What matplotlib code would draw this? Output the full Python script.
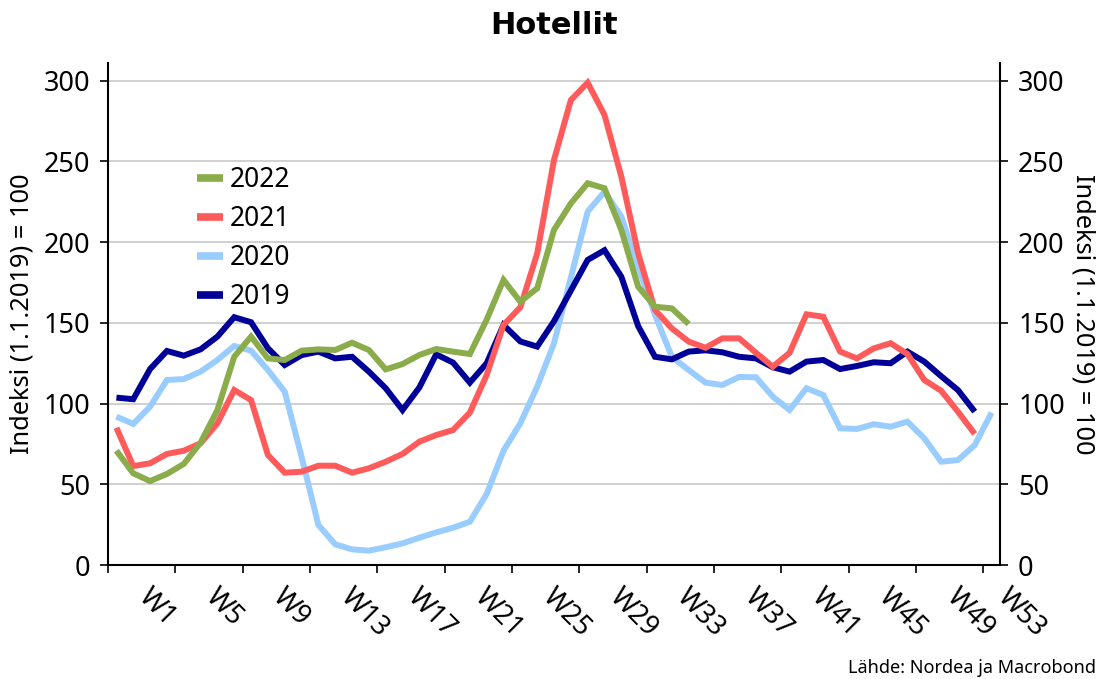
import matplotlib
matplotlib.use('Agg')
import matplotlib.pyplot as plt
import matplotlib.transforms as mtransforms
import numpy as np

plt.rcParams['font.family'] = ['Noto Sans', 'DejaVu Sans']

# Weekly index values (1.1.2019 = 100)
y2019 = [103.7, 102.7, 121.4, 132.6, 129.7, 133.6, 141.5, 153.5, 150.4, 134.3,
         123.9, 130.0, 132.2, 128.0, 129.0, 119.8, 109.5, 96.0, 110.0, 130.5,
         125.4, 113.0, 125.0, 148.7, 138.5, 135.3, 151.0, 170.0, 189.0, 195.0,
         178.6, 148.0, 129.0, 127.4, 132.2, 133.0, 131.8, 129.0, 128.0, 122.5,
         119.8, 126.0, 127.0, 121.4, 123.3, 125.6, 125.0, 132.2, 126.0, 117.0,
         108.4, 95.0]
y2020 = [91.9, 87.4, 98.1, 114.6, 115.2, 119.8, 127.0, 135.7, 132.8, 120.8,
         107.4, 67.1, 24.8, 12.8, 9.7, 8.9, 11.0, 13.4, 16.9, 20.2,
         23.1, 26.8, 44.0, 70.8, 87.8, 110.5, 137.4, 178.0, 218.9, 231.3,
         215.8, 184.8, 155.0, 129.0, 120.8, 113.0, 111.5, 116.5, 116.3, 104.3,
         96.0, 109.5, 105.3, 84.7, 84.3, 87.2, 85.7, 88.8, 78.5, 64.0,
         65.0, 74.3, 94.4]
y2021 = [85.0, 61.3, 63.0, 68.8, 70.8, 75.4, 87.8, 108.4, 102.2, 68.2,
         57.2, 57.8, 61.5, 61.5, 57.2, 59.9, 64.0, 68.8, 76.4, 80.5,
         83.6, 94.4, 117.7, 148.7, 159.7, 193.0, 251.0, 288.0, 298.8, 278.8,
         240.6, 193.0, 158.0, 146.6, 138.4, 134.6, 140.4, 140.4, 131.5, 122.9,
         131.5, 155.3, 153.8, 132.2, 128.0, 134.2, 137.4, 130.7, 114.6, 108.0,
         95.0, 81.2]
y2022 = [70.8, 56.8, 52.0, 56.4, 62.6, 75.8, 96.0, 129.0, 141.5, 128.0,
         127.0, 132.8, 133.6, 133.2, 137.7, 133.2, 121.2, 124.5, 130.1, 133.8,
         132.2, 130.7, 152.0, 176.6, 163.1, 171.4, 207.6, 224.0, 236.5, 233.4,
         207.6, 172.4, 160.0, 159.0, 149.3]

week_labels = ['W1', 'W5', 'W9', 'W13', 'W17', 'W21', 'W25', 'W29', 'W33',
               'W37', 'W41', 'W45', 'W49', 'W53']
y_ticks = [0, 50, 100, 150, 200, 250, 300]

series = [
    ('2020', y2020, '#99ccff', 2),
    ('2019', y2019, '#000099', 3),
    ('2021', y2021, '#ff5b5b', 4),
    ('2022', y2022, '#8aac4b', 5),
]

fig = plt.figure(figsize=(11, 6.79), dpi=100)
ax = fig.add_axes([108 / 1100, 1 - 565 / 679, 892 / 1100, 502 / 679])

lines = {}
for name, vals, color, z in series:
    lines[name], = ax.plot(np.arange(len(vals)), vals, color=color, lw=4.3,
                           solid_joinstyle='miter', solid_capstyle='butt',
                           zorder=z)

ax.set_xlim(-0.5, 52.5)
ax.set_ylim(0, 311)
ax.set_yticks(y_ticks)
ax.grid(axis='y', color='#c8c8c8', lw=1.2, zorder=0)
ax.set_axisbelow(True)

for side in ('top', 'right'):
    ax.spines[side].set_visible(False)
ax.spines['left'].set_linewidth(1.5)
ax.spines['bottom'].set_linewidth(1.5)

ax.tick_params(axis='y', direction='out', length=6, width=1.2, pad=7,
               labelsize=19.5, colors='black')

# week labels at category centres, tick marks between categories
ax.set_xticks(np.arange(0, 53, 4))
ax.set_xticklabels(week_labels, rotation=-45, ha='left', va='top',
                   fontsize=19.5)
ax.set_xticks(np.arange(-0.5, 52, 4), minor=True)
ax.tick_params(axis='x', which='major', length=0, pad=13)
ax.tick_params(axis='x', which='minor', direction='out', length=6, width=1.2)
for lab in ax.get_xticklabels():
    dx = 0.0 if lab.get_text() == 'W53' else 0.16
    lab.set_transform(lab.get_transform() +
                      mtransforms.ScaledTranslation(dx, 0, fig.dpi_scale_trans))

ax2 = ax.twinx()
ax2.set_ylim(ax.get_ylim())
ax2.set_yticks(y_ticks)
for side in ('top', 'left', 'bottom'):
    ax2.spines[side].set_visible(False)
ax2.spines['right'].set_linewidth(1.5)
ax2.tick_params(axis='y', direction='out', length=6, width=1.2, pad=7,
                labelsize=19.5)

ax.set_ylabel('Indeksi (1.1.2019) = 100', fontsize=18.3, labelpad=6)
ax2.set_ylabel('Indeksi (1.1.2019) = 100', fontsize=18.3, rotation=270,
               labelpad=22)

order = ['2022', '2021', '2020', '2019']
leg = ax.legend([lines[k] for k in order], order, loc='upper left',
                bbox_to_anchor=((197 - 108) / 892, (565 - 166) / 502),
                frameon=False, fontsize=19, handlelength=1.0,
                handletextpad=0.25, labelspacing=0.42, borderpad=0,
                borderaxespad=0)
for h in leg.get_lines():
    h.set_linewidth(5.5)

fig.text(554 / 1100, 1 - 26 / 679, 'Hotellit', ha='center', va='center',
         fontsize=22, fontweight='bold', family=['DejaVu Sans'])
fig.text(1096 / 1100, 1 - 668 / 679, 'Lähde: Nordea ja Macrobond',
         ha='right', va='center', fontsize=13)

fig.savefig('out.png', dpi=100)
